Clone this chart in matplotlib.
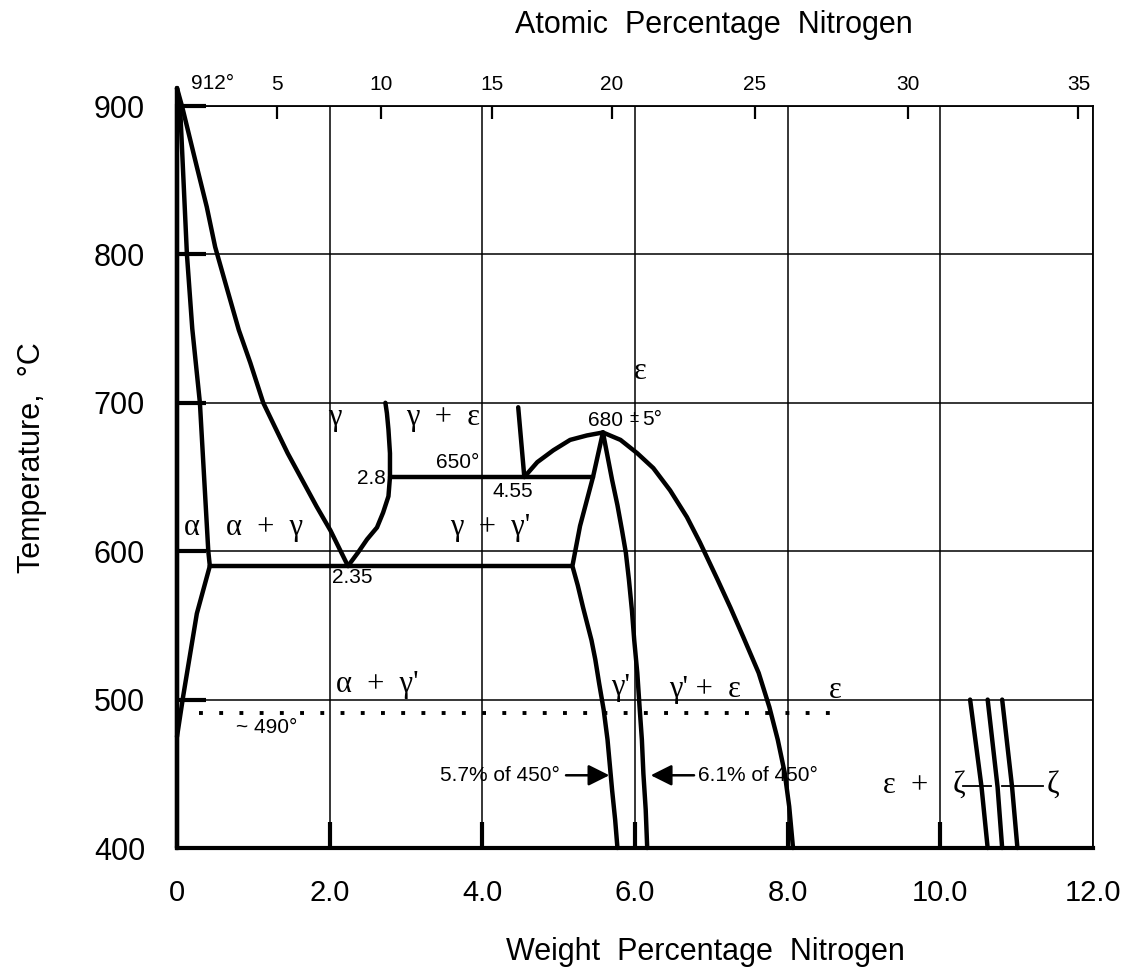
import numpy as np
import matplotlib.pyplot as plt

plt.rcParams['font.family'] = ['Liberation Sans', 'DejaVu Sans']

# phase boundaries, wt% N vs temperature (C)
fe_x = [0, 0]
fe_t = [400, 912]
alpha_x = [0, 0.04, 0.13, 0.20, 0.30, 0.41, 0.43]
alpha_t = [912, 900, 800, 750, 700, 600, 590]
alpha_solvus_x = [0.43, 0.26, 0.08, 0.0]
alpha_solvus_t = [590, 558, 502, 475]
gamma_left_x = [0, 0.07, 0.26, 0.39, 0.50, 0.66, 0.81, 0.96, 1.13, 1.28, 1.45,
                1.64, 1.83, 2.01, 2.24]
gamma_left_t = [912, 899, 859, 832, 805, 776, 749, 727, 700, 684, 666,
                648, 630, 614, 590]
gamma_right_x = [2.24, 2.37, 2.49, 2.62, 2.70, 2.77, 2.79, 2.79, 2.77, 2.75, 2.73]
gamma_right_t = [590, 599, 608, 616, 626, 637, 650, 666, 682, 693, 700]
eut590_x = [0.43, 5.18]
eut650_x = [2.79, 5.45]
eps_top_x = [4.47, 4.55]
eps_top_t = [697, 650]
eps_dome_x = [4.55, 4.72, 4.93, 5.15, 5.37, 5.58]
eps_dome_t = [650, 660, 668, 675, 678, 680]
gp_left_x = [5.58, 5.45, 5.28, 5.18, 5.25, 5.32, 5.37, 5.43, 5.48, 5.53, 5.59,
             5.64, 5.67, 5.70, 5.74, 5.77]
gp_left_t = [680, 650, 617, 590, 577, 562, 552, 540, 527, 511, 493,
             473, 456, 439, 419, 400]
gp_right_x = [5.58, 5.64, 5.70, 5.77, 5.83, 5.88, 5.92, 5.96, 5.99, 6.03, 6.06,
              6.09, 6.11, 6.14, 6.16]
gp_right_t = [680, 664, 648, 631, 614, 599, 581, 560, 540, 518, 495,
              473, 450, 426, 400]
eps_right_x = [5.58, 5.81, 6.03, 6.24, 6.46, 6.68, 6.85, 7.08, 7.25, 7.42, 7.62,
               7.76, 7.87, 7.96, 8.02, 8.07]
eps_right_t = [680, 675, 666, 656, 641, 623, 606, 581, 562, 542, 518,
               495, 473, 451, 428, 400]
zeta_t = [500, 441, 400]
zeta_a_x = [10.39, 10.54, 10.62]
zeta_b_x = [10.62, 10.75, 10.81]
zeta_c_x = [10.81, 10.94, 11.01]
dots_x = [0.29, 8.77]
dots_t = 491

# axis ticks
wt_ticks = [0, 2, 4, 6, 8, 10, 12]
wt_labels = ['0', '2.0', '4.0', '6.0', '8.0', '10.0', '12.0']
wt_marks = [2, 4, 6, 8, 10]
temp_ticks = [400, 500, 600, 700, 800, 900]
temp_marks = [500, 600, 700, 800, 900]
at_pos = [1.31, 2.67, 4.13, 5.70, 7.57, 9.58, 11.81]
at_labels = ['5', '10', '15', '20', '25', '30', '35']

fig = plt.figure(figsize=(11.35, 9.75), dpi=100)
ax = fig.add_axes([177 / 1135, 1 - 848 / 975, 916 / 1135, 742 / 975])
ax.set_xlim(0, 12)
ax.set_ylim(400, 900)

ax.xaxis.remove_overlapping_locs = False
ax.yaxis.remove_overlapping_locs = False
ax.set_xticks(wt_ticks)
ax.set_xticklabels(wt_labels)
ax.set_xticks(wt_marks, minor=True)
ax.set_yticks(temp_ticks)
ax.set_yticks(temp_marks, minor=True)
ax.grid(True, which='major', color='black', lw=1.1)
ax.set_axisbelow(True)
ax.tick_params(axis='x', which='major', length=0, pad=22, labelsize=21)
ax.tick_params(axis='x', which='minor', direction='in', length=19, width=3)
ax.tick_params(axis='y', which='major', length=0, pad=23, labelsize=22)
ax.tick_params(axis='y', which='minor', direction='in', length=21, width=3)
for s in ['left', 'bottom']:
    ax.spines[s].set_linewidth(3)
for s in ['top', 'right']:
    ax.spines[s].set_linewidth(1.3)

top = ax.twiny()
top.set_xlim(0, 12)
top.set_xticks(at_pos)
top.set_xticklabels(at_labels)
top.tick_params(axis='x', direction='in', length=9, width=1.6, pad=9, labelsize=15)
for s in top.spines.values():
    s.set_visible(False)

lw = 3.2
kw = dict(color='black', lw=lw, solid_capstyle='round', solid_joinstyle='round', clip_on=False)
ax.plot(fe_x, fe_t, **kw)
ax.plot(alpha_x, alpha_t, **kw)
ax.plot(alpha_solvus_x, alpha_solvus_t, **kw)
ax.plot(gamma_left_x, gamma_left_t, **kw)
ax.plot(gamma_right_x, gamma_right_t, **kw)
ax.plot(eut590_x, [590, 590], **kw)
ax.plot(eut650_x, [650, 650], **kw)
ax.plot(eps_top_x, eps_top_t, **kw)
ax.plot(eps_dome_x, eps_dome_t, **kw)
ax.plot(gp_left_x, gp_left_t, **kw)
ax.plot(gp_right_x, gp_right_t, **kw)
ax.plot(eps_right_x, eps_right_t, **kw)
for zx in (zeta_a_x, zeta_b_x, zeta_c_x):
    ax.plot(zx, zeta_t, **kw)
ax.plot(dots_x, [dots_t, dots_t], color='black', lw=2.8, linestyle=(0, (1, 4.2)),
        dash_capstyle='butt')

greek = dict(family=['Liberation Serif', 'DejaVu Serif'], fontsize=22, ha='center', va='center')
small = dict(fontsize=15, ha='center', va='center')

ax.text(0.47, 915, '912°', clip_on=False, **small)
ax.text(2.07, 690, 'γ', **greek)
ax.text(3.49, 690, 'γ  +  ε', **greek)
ax.text(6.07, 721, 'ε', **greek)
ax.text(5.61, 688, '680', **small)
ax.text(5.99, 690, '±', fontsize=12, ha='center', va='center')
ax.text(6.23, 689, '5°', **small)
ax.text(3.68, 660, '650°', **small)
ax.text(2.73, 649, '2.8', fontsize=15, ha='right', va='center')
ax.text(4.40, 640, '4.55', **small)
ax.text(4.10, 616, "γ  +  γ'", **greek)
ax.text(0.20, 616, 'α', **greek)
ax.text(1.15, 616, 'α  +  γ', **greek)
ax.text(2.29, 582, '2.35', **small)
ax.text(2.63, 510, "α  +  γ'", **greek)
ax.text(1.18, 481, '~ 490°', **small)
ax.text(5.81, 508, "γ'", **greek)
ax.text(6.92, 507, "γ' +  ε", **greek)
ax.text(8.62, 506, 'ε', **greek)
ax.text(9.55, 442, 'ε  +', **greek)
ax.text(10.24, 442, 'ζ', **greek)
ax.text(11.48, 442, 'ζ', **greek)
ax.plot([10.30, 10.66], [442, 442], color='black', lw=1.3)
ax.plot([10.81, 11.34], [442, 442], color='black', lw=1.3)

ax.text(5.02, 449, '5.7% of 450°', fontsize=15, ha='right', va='center')
ax.annotate('', xy=(5.70, 449), xytext=(5.06, 449),
            arrowprops=dict(arrowstyle='-|>', color='black', lw=1.8, mutation_scale=32))
ax.text(6.83, 449, '6.1% of 450°', fontsize=15, ha='left', va='center')
ax.annotate('', xy=(6.17, 449), xytext=(6.81, 449),
            arrowprops=dict(arrowstyle='-|>', color='black', lw=1.8, mutation_scale=32))

fig.text(705 / 1135, 1 - 952 / 975, 'Weight  Percentage  Nitrogen', fontsize=22,
         ha='center', va='center')
fig.text(714 / 1135, 1 - 25 / 975, 'Atomic  Percentage  Nitrogen', fontsize=22,
         ha='center', va='center')
fig.text(32 / 1135, 1 - 458 / 975, 'Temperature,  °C', fontsize=22, rotation=90,
         ha='center', va='center')

fig.savefig('out.png', dpi=100)
